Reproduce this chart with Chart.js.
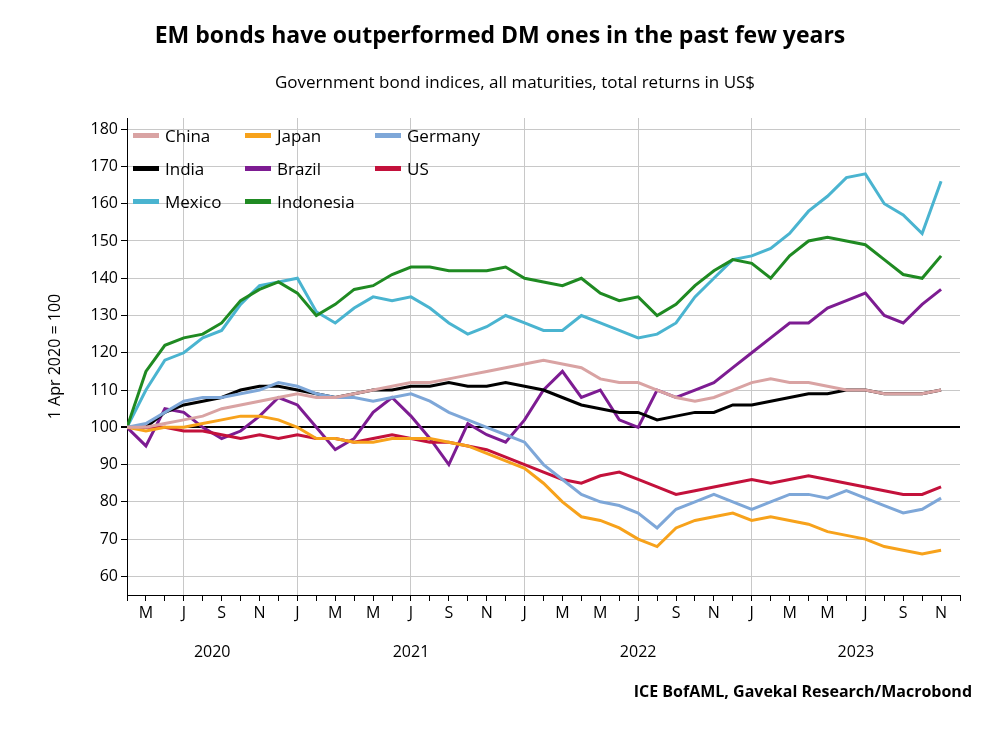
<!DOCTYPE html>
<html>
<head>
<meta charset="utf-8">
<script src="https://cdn.jsdelivr.net/npm/chart.js@4"></script>
<style>
  body { margin: 0; background: #fff; font-family: "Open Sans", sans-serif; }
  #wrap { position: relative; width: 1000px; height: 740px; }
  canvas { position: absolute; left: 0; top: 0; }
  .txt { position: absolute; white-space: nowrap; color: #000; }
  #titulo { top: 18px; left: 0; width: 1000px; text-align: center; font-size: 23px; font-weight: bold; }
  #sub { top: 70px; left: 0; width: 1000px; text-align: center; font-size: 17px; padding-left: 30px; box-sizing: border-box; }
  #fonte { top: 680px; right: 28px; font-size: 16px; font-weight: bold; }
  #legenda { position: absolute; left: 133px; top: 124px; display: grid; grid-template-columns: 112px 130px 140px; row-gap: 10px; font-size: 17px; }
  .item { display: flex; align-items: center; }
  .item span { display: inline-block; width: 26px; height: 5px; margin-right: 6px; }
</style>
</head>
<body>
<div id="wrap">
  <canvas id="grafico" width="1000" height="740"></canvas>
  <div class="txt" id="titulo">EM bonds have outperformed DM ones in the past few years</div>
  <div class="txt" id="sub">Government bond indices, all maturities, total returns in US$</div>
  <div id="legenda"></div>
  <div class="txt" id="fonte">ICE BofAML, Gavekal Research/Macrobond</div>
</div>
<script>
// meses a partir de abr/2020 (índice 0)
const letrasMes = ['A','M','J','J','A','S','O','N','D','J','F','M'];
const anos = ['2020', '2021', '2022', '2023'];
const marcasY = [60, 70, 80, 90, 100, 110, 120, 130, 140, 150, 160, 170, 180];

const china = [100,100,101,102,103,105,106,107,108,109,108,108,109,110,111,112,112,113,114,115,116,117,118,117,116,113,112,112,110,108,107,108,110,112,113,112,112,111,110,110,109,109,109,110];
const japao = [100,99,100,100,101,102,103,103,102,100,97,97,96,96,97,97,97,96,95,93,91,89,85,80,76,75,73,70,68,73,75,76,77,75,76,75,74,72,71,70,68,67,66,67];
const alemanha = [100,101,104,107,108,108,109,110,112,111,109,108,108,107,108,109,107,104,102,100,98,96,90,86,82,80,79,77,73,78,80,82,80,78,80,82,82,81,83,81,79,77,78,81];
const india = [100,100,104,106,107,108,110,111,111,110,109,108,109,110,110,111,111,112,111,111,112,111,110,108,106,105,104,104,102,103,104,104,106,106,107,108,109,109,110,110,109,109,109,110];
const brasil = [100,95,105,104,100,97,99,103,108,106,100,94,97,104,108,103,97,90,101,98,96,102,110,115,108,110,102,100,110,108,110,112,116,120,124,128,128,132,134,136,130,128,133,137];
const eua = [100,100,100,99,99,98,97,98,97,98,97,97,96,97,98,97,96,96,95,94,92,90,88,86,85,87,88,86,84,82,83,84,85,86,85,86,87,86,85,84,83,82,82,84];
const mexico = [100,110,118,120,124,126,133,138,139,140,131,128,132,135,134,135,132,128,125,127,130,128,126,126,130,128,126,124,125,128,135,140,145,146,148,152,158,162,167,168,160,157,152,166];
const indonesia = [100,115,122,124,125,128,134,137,139,136,130,133,137,138,141,143,143,142,142,142,143,140,139,138,140,136,134,135,130,133,138,142,145,144,140,146,150,151,150,149,145,141,140,146];

const series = [
  { nome: 'China', dados: china, cor: '#d9a3a3' },
  { nome: 'Japan', dados: japao, cor: '#f7a21b' },
  { nome: 'Germany', dados: alemanha, cor: '#7ea7d8' },
  { nome: 'India', dados: india, cor: '#000000' },
  { nome: 'Brazil', dados: brasil, cor: '#7d1c92' },
  { nome: 'US', dados: eua, cor: '#c3113b' },
  { nome: 'Mexico', dados: mexico, cor: '#4ab4d0' },
  { nome: 'Indonesia', dados: indonesia, cor: '#1f8a22' }
];

// legenda em HTML
const legenda = document.getElementById('legenda');
series.forEach(s => {
  const el = document.createElement('div');
  el.className = 'item';
  el.innerHTML = `<span style="background:${s.cor}"></span>${s.nome}`;
  legenda.appendChild(el);
});

// ordem de desenho: linhas de trás para frente
const ordem = ['China','Japan','Germany','US','India','Brazil','Indonesia','Mexico'];

const datasets = ordem.map(n => {
  const s = series.find(x => x.nome === n);
  return {
    label: s.nome,
    data: s.dados.map((v, i) => ({ x: i, y: v })),
    borderColor: s.cor,
    borderWidth: 3,
    pointRadius: 0,
    tension: 0
  };
});

const anosPlugin = {
  id: 'anos',
  afterDraw(chart) {
    const ctx = chart.ctx;
    const x = chart.scales.x;
    ctx.save();
    ctx.font = '16px "Open Sans"';
    ctx.fillStyle = '#000';
    ctx.textAlign = 'center';
    const centros = [4.5, 15, 27, 38.5];
    anos.forEach((a, i) => ctx.fillText(a, x.getPixelForValue(centros[i]), 657));
    ctx.restore();
  }
};

new Chart(document.getElementById('grafico').getContext('2d'), {
  type: 'line',
  data: { datasets: datasets },
  plugins: [anosPlugin],
  options: {
    responsive: false,
    animation: false,
    layout: { padding: { top: 118, right: 40, bottom: 90, left: 42 } },
    plugins: { legend: { display: false }, tooltip: { enabled: false } },
    scales: {
      x: {
        type: 'linear',
        min: 0,
        max: 44,
        afterFit: s => { s.height = 55; },
        afterBuildTicks: s => { s.ticks = Array.from({ length: 45 }, (_, i) => ({ value: i })); },
        ticks: {
          autoSkip: false,
          maxRotation: 0,
          font: { size: 16, family: 'Open Sans' },
          color: '#000',
          callback: v => (v % 2 === 1 ? letrasMes[v % 12] : '')
        },
        grid: {
          color: ctx => ((ctx.tick && (ctx.tick.value - 3) % 6 === 0) ? '#c8c8c8' : 'rgba(0,0,0,0)'),
          tickColor: '#000',
          tickLength: 6,
          drawTicks: true
        },
        border: { color: '#000' }
      },
      y: {
        min: 55,
        max: 183,
        afterFit: s => { s.width = 85; },
        afterBuildTicks: s => { s.ticks = marcasY.map(v => ({ value: v })); },
        title: { display: true, text: '1 Apr 2020 = 100', font: { size: 16, family: 'Open Sans' }, color: '#000' },
        ticks: { font: { size: 16, family: 'Open Sans' }, color: '#000' },
        grid: {
          color: ctx => (ctx.tick && ctx.tick.value === 100 ? '#000' : '#c8c8c8'),
          lineWidth: ctx => (ctx.tick && ctx.tick.value === 100 ? 2 : 1),
          tickColor: '#000',
          tickLength: 6
        },
        border: { color: '#000' }
      }
    }
  }
});
</script>
</body>
</html>
